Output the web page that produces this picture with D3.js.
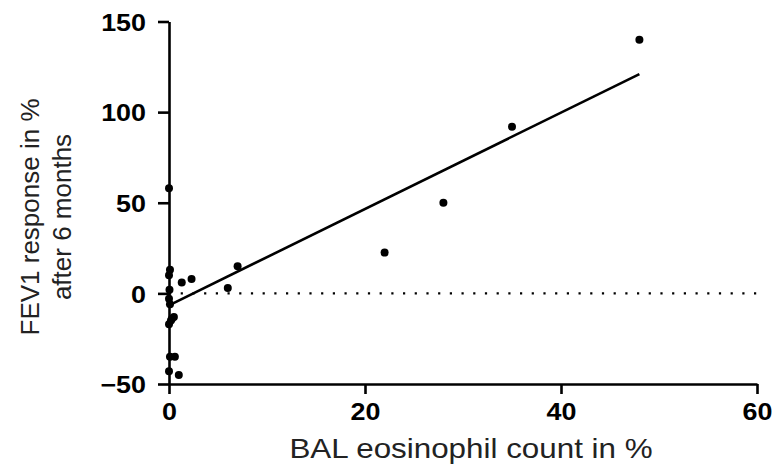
<!DOCTYPE html>
<html><head><meta charset="utf-8">
<script src="https://cdn.jsdelivr.net/npm/d3@7"></script>
<style>body{margin:0;background:#fff}svg{display:block}</style>
</head><body>
<svg id="c" width="775" height="472"></svg>
<script>
const eosX = [0, 0.1, 0, 1.3, 2.3, 7, 6, 0.05, 0, 0.1, 0.2, 0.3, 0.5, 0, 0.1, 0.6, 0, 1];
const fevY = [58, 13, 10, 6, 8, 15, 3, 2, -3, -6, -15, -14, -13, -17, -35, -35, -43, -45];
const eosX2 = [22, 28, 35, 48];
const fevY2 = [22.5, 50, 92, 140];
const fitX = [0, 48];
const fitY = [-6.6, 121];
const xTicks = [0, 20, 40, 60];
const yTicks = [-50, 0, 50, 100, 150];
const xTitle = "BAL eosinophil count in %";
const yTitle = ["FEV1 response in %", "after 6 months"];

const allX = eosX.concat(eosX2), allY = fevY.concat(fevY2);
const svg = d3.select("#c");
const x = d3.scaleLinear().domain([0, 60]).range([169, 757]);
const y = d3.scaleLinear().domain([-50, 150]).range([384, 21.5]);

const font = "'Liberation Sans', Arial, sans-serif";
const stretch = 1.12;
function widen(sel) {
  sel.each(function () {
    const w = this.getComputedTextLength();
    d3.select(this).attr("textLength", w * stretch).attr("lengthAdjust", "spacingAndGlyphs");
  });
}

// zero reference dotted line
svg.append("line").attr("x1", x(0)).attr("x2", x(60)).attr("y1", y(0)).attr("y2", y(0))
  .attr("stroke", "#000").attr("stroke-width", 2.2).attr("stroke-dasharray", "2.2,9.5");

const xa = svg.append("g").attr("transform", `translate(0,${y(-50)})`)
  .call(d3.axisBottom(x).tickValues(xTicks).tickSize(10).tickSizeOuter(0).tickPadding(9));
const ya = svg.append("g").attr("transform", `translate(${x(0)},0)`)
  .call(d3.axisLeft(y).tickValues(yTicks).tickSize(11).tickSizeOuter(0).tickPadding(12));
[xa, ya].forEach(g => {
  g.selectAll("path,line").attr("stroke", "#000").attr("stroke-width", 2.6);
  g.selectAll("text").attr("fill", "#000").style("font-family", font)
    .style("font-size", "24px").style("font-weight", "bold");
  widen(g.selectAll("text"));
});
ya.selectAll("text").attr("dy", "0.36em");

// regression line
svg.append("path").datum(fitX.map((d, i) => [d, fitY[i]]))
  .attr("d", d3.line().x(d => x(d[0])).y(d => y(d[1])))
  .attr("stroke", "#000").attr("stroke-width", 2.6).attr("fill", "none");

// points
svg.append("g").selectAll("circle").data(allX.map((d, i) => [d, allY[i]])).join("circle")
  .attr("cx", d => x(d[0])).attr("cy", d => y(d[1])).attr("r", 4).attr("fill", "#000");

const xt = svg.append("text").attr("x", (x(0) + x(60)) / 2 + 8).attr("y", 458).attr("text-anchor", "middle")
  .style("font-family", font).style("font-size", "28px").attr("fill", "#222").text(xTitle);
widen(xt);

const yt = svg.append("text").attr("transform", "translate(0,217) rotate(-90)")
  .attr("text-anchor", "middle").style("font-family", font).style("font-size", "26px").attr("fill", "#222");
yt.append("tspan").attr("x", 0).attr("y", 39).text(yTitle[0]);
yt.append("tspan").attr("x", 0).attr("y", 71).text(yTitle[1]);
</script>
</body></html>
